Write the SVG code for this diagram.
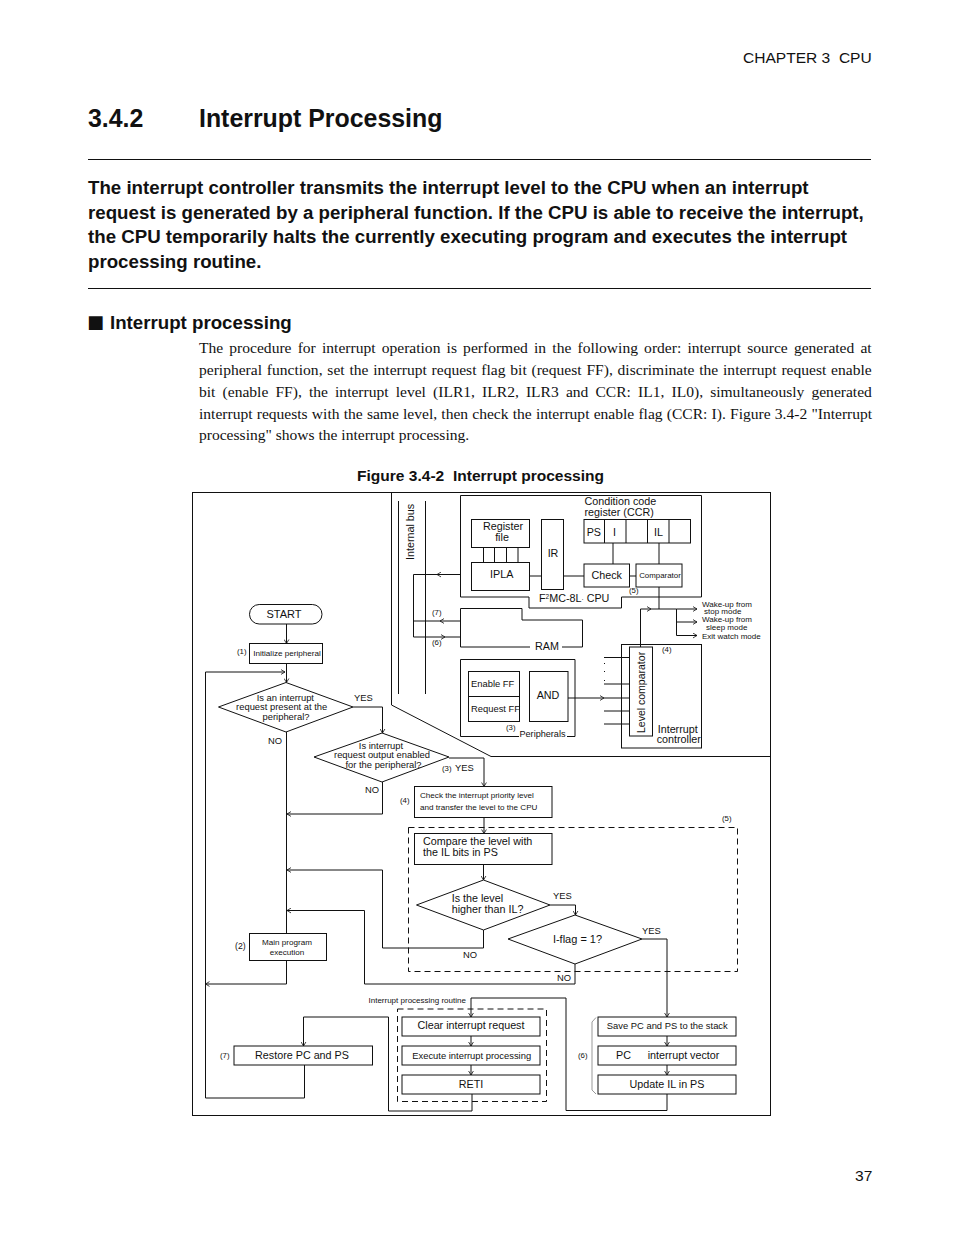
<svg xmlns="http://www.w3.org/2000/svg" width="954" height="1235" viewBox="0 0 954 1235">
<style>
text{font-family:"Liberation Sans",Arial,sans-serif;fill:#111}
.b{font-weight:bold}
.body{font-family:"Liberation Serif","Times New Roman",serif;font-size:15.55px}
.s{fill:none;stroke:#111;stroke-width:1}
.n{fill:#fff;stroke:#111;stroke-width:1}
.d{fill:none;stroke:#111;stroke-width:1;stroke-dasharray:6 4}
.a{marker-end:url(#arr)}
.m{text-anchor:middle}
.t7{font-size:7.8px}.t75{font-size:8.1px}.t8{font-size:8px}.t85{font-size:9.4px}.t10{font-size:10.75px}
</style>
<defs>
<marker id="arr" viewBox="0 0 6 6" refX="5" refY="3" markerWidth="6" markerHeight="6" orient="auto" markerUnits="userSpaceOnUse"><path d="M1,0.6 L5,3 L1,5.4" fill="none" stroke="#111" stroke-width="0.8"/></marker>
</defs>
<rect width="954" height="1235" fill="#fff"/>
<g id="page-text">
<text x="743" y="63" font-size="15.55" xml:space="preserve">CHAPTER 3  CPU</text>
<text x="88" y="127" font-size="24.9" class="b">3.4.2</text>
<text x="199" y="127" font-size="24.9" class="b">Interrupt Processing</text>
<path class="s" d="M88,159.5H871M88,288.5H871"/>
<g class="b" font-size="18.7">
<text x="88" y="194">The interrupt controller transmits the interrupt level to the CPU when an interrupt</text>
<text x="88" y="219">request is generated by a peripheral function. If the CPU is able to receive the interrupt,</text>
<text x="88" y="243">the CPU temporarily halts the currently executing program and executes the interrupt</text>
<text x="88" y="268">processing routine.</text>
</g>
<text x="87" y="328" font-size="18" style="font-family:'DejaVu Sans',sans-serif">■</text>
<text x="110" y="329" font-size="18.7" class="b">Interrupt processing</text>
<text class="body" x="199" y="353" word-spacing="2.29">The procedure for interrupt operation is performed in the following order: interrupt source generated at</text>
<text class="body" x="199" y="374.5" word-spacing="0.93">peripheral function, set the interrupt request flag bit (request FF), discriminate the interrupt request enable</text>
<text class="body" x="199" y="396.5" word-spacing="3.25">bit (enable FF), the interrupt level (ILR1, ILR2, ILR3 and CCR: IL1, IL0), simultaneously generated</text>
<text class="body" x="199" y="418.5" word-spacing="0.31">interrupt requests with the same level, then check the interrupt enable flag (CCR: I). Figure 3.4-2 "Interrupt</text>
<text class="body" x="199" y="440">processing" shows the interrupt processing.</text>
<text x="357" y="481" font-size="15.55" class="b" xml:space="preserve">Figure 3.4-2  Interrupt processing</text>
<text x="855" y="1181" font-size="15.55">37</text>
</g>
<g id="frame">
<rect class="s" x="192.5" y="492.5" width="578" height="623"/>
<path class="s" d="M391.5,492.5V705L491,756.5H770"/>
</g>
<g id="connectors">
<path class="s" d="M398.5,501V694M425.5,501V694"/>
<path class="s" d="M483.5,547V562.5M494.5,547V562.5M506.5,547V562.5M518,547V562.5M529.5,576H541M563.5,576H584M629.5,576H636M613,543V564M659,543V564"/>
<path class="s a" d="M460,574.5H437"/><path class="s" d="M437,574.5H413.5V637"/>
<path class="s a" d="M460,621H440"/><path class="s" d="M440,621H413.5"/>
<path class="s a" d="M413.5,637H445"/><path class="s" d="M445,637H460"/>
<path class="s a" d="M568,698H604"/><path class="s" d="M604,698H629.5"/>
<path class="s" d="M604,657.5H629.5M604,684H629.5M604,711H629.5M604,724H629.5"/>
<path class="s a" d="M640.5,647V609H651"/><path class="s" d="M651,609H676.5M659,587V609"/>
<path class="s a" d="M676.5,609H697"/>
<path class="s a" d="M676.5,609V622H697"/>
<path class="s a" d="M676.5,622V635.5H697"/>
<path class="s a" d="M286.5,624V643.5"/>
<path class="s a" d="M286.5,663V682.5"/>
<path class="s a" d="M205.5,1098V672H285"/>
<path class="s a" d="M353,707H382.5V733"/>
<path class="s a" d="M449,758H484V786.5"/>
<path class="s a" d="M382.5,782V814H287"/>
<path class="s" d="M286.5,732V933.5"/>
<path class="s a" d="M484,817.5V833.5"/>
<path class="s a" d="M483.5,864V880"/>
<path class="s a" d="M550,905H575.5V915"/>
<path class="s a" d="M483.5,930V948H382.5V870H287"/>
<path class="s a" d="M575,964V984H364.5V910.5H287"/>
<path class="s a" d="M642,939H667V1017"/>
<path class="s a" d="M286.5,960.5V984H205.5"/>
<path class="s a" d="M667,1094V1110.5H566V998H471V1017"/>
<path class="s a" d="M471,1036V1046"/>
<path class="s a" d="M471,1065V1075"/>
<path class="s a" d="M472,1094V1111H388.5V1017H303.5V1046"/>
<path class="s" d="M304.5,1065V1098H205.5"/>
<path class="s a" d="M667,1036V1046"/>
<path class="s a" d="M667,1065V1075"/>
<path d="M596,1017.5L592,1022V1090L596,1094" fill="none" stroke="#999" stroke-width="1"/>
<g fill="#111"><rect x="604" y="663" width="1" height="1"/><rect x="604" y="671" width="1" height="1"/><rect x="604" y="680" width="1" height="1"/></g>
</g>
<g id="cpu">
<path class="s" d="M460.5,495.5H701.5V597H621.5V608H529V597H460.5Z"/>
<rect class="n" x="471.5" y="519.5" width="58" height="28"/><text class="t10 m" x="503" y="530">Register</text><text class="t10 m" x="502" y="541">file</text>
<rect class="n" x="471.5" y="562.5" width="58" height="28"/><text class="t10 m" x="501.7" y="578">IPLA</text>
<rect class="n" x="541.5" y="519.5" width="22" height="70"/><text class="t10 m" x="553" y="557">IR</text>
<rect class="n" x="584" y="519.5" width="106.5" height="23.5"/><path class="s" d="M604.5,519.5V543M626,519.5V543M647.5,519.5V543M669,519.5V543"/>
<text class="t10" x="586.7" y="536">PS</text><text class="t10" x="613" y="536">I</text><text class="t10" x="654" y="536">IL</text>
<rect class="n" x="584" y="564" width="45.5" height="23"/><text class="t10 m" x="606.7" y="579">Check</text>
<rect class="n" x="636" y="564" width="46" height="23"/><text class="m" font-size="7.9" x="660" y="578">Comparator</text>
<text class="t10" x="584.5" y="505">Condition code</text><text class="t10" x="584.5" y="516">register (CCR)</text>
<text class="t10" x="539" y="602">F<tspan font-size="6.5" dy="-3">2</tspan><tspan dy="3">MC-8L</tspan><tspan font-size="6.5">·</tspan> CPU</text>
<text class="t7" x="629" y="593">(5)</text>
</g>
<g id="ram">
<path class="s" d="M530,647H460.5V608.5H522V620H582.5V647H562"/>
<text class="t10" x="535" y="650">RAM</text>
<text class="t7" x="432" y="615">(7)</text><text class="t7" x="432" y="645">(6)</text>
</g>
<g id="peripherals">
<path class="s" d="M519,736.5H460.5V659.5H575V736.5H567"/>
<rect class="n" x="468.5" y="671.5" width="51" height="25"/><text class="t85" x="471" y="687">Enable FF</text>
<rect class="n" x="468.5" y="696.5" width="51" height="25"/><text class="t85" x="471" y="712">Request FF</text>
<rect class="n" x="529.5" y="671.5" width="38.5" height="50"/><text class="t10" x="536.7" y="699">AND</text>
<text class="t7" x="506" y="730">(3)</text><text font-size="9.1" x="519.5" y="737">Peripherals</text>
</g>
<g id="interrupt-controller">
<rect class="s" x="621.5" y="644.5" width="80" height="103.5"/>
<rect class="n" x="629.5" y="647" width="23" height="89"/>
<text transform="translate(644.5,733) rotate(-90)" font-size="10.5">Level comparator</text>
<text class="t10" x="657.7" y="733">Interrupt</text><text class="t10" x="656.7" y="743">controller</text>
<text class="t7" x="662" y="652">(4)</text>
</g>
<g id="wake-labels">
<text class="t8" x="702" y="607">Wake-up from</text><text class="t8" x="704" y="614">stop mode</text>
<text class="t8" x="702" y="622">Wake-up from</text><text class="t8" x="706" y="630">sleep mode</text>
<text class="t8" x="702" y="638.5">Exit watch mode</text>
<text class="t10" transform="translate(414,560) rotate(-90)">Internal bus</text>
</g>
<g id="start"><rect class="n" x="249.5" y="604.5" width="72.5" height="19.5" rx="9.7"/><text class="m" font-size="11" x="284" y="618">START</text></g>
<g id="init"><rect class="n" x="249.5" y="643.5" width="73" height="20"/><text class="m t75" x="287" y="656">Initialize peripheral</text><text class="t7" x="237" y="654">(1)</text></g>
<g id="d1"><path class="n" d="M218.5,707L286,682.5L353,707L286,732Z"/><text class="m t85" x="285.3" y="701">Is an interrupt</text><text class="m t85" x="281.7" y="710">request present at the</text><text class="m t85" x="286" y="720">peripheral?</text><text class="t85" x="354" y="701">YES</text><text class="t85" x="268" y="744">NO</text></g>
<g id="d2"><path class="n" d="M314,757L382,733L449,757L382,782Z"/><text class="m t85" x="381" y="749">Is interrupt</text><text class="m t85" x="382" y="758">request output enabled</text><text class="m t85" x="383.5" y="768">for the peripheral?</text><text class="t85" x="365" y="793">NO</text><text class="t7" x="442" y="771">(3)</text><text class="t85" x="455" y="771">YES</text></g>
<g id="check"><rect class="n" x="414.5" y="786.5" width="137.5" height="31"/><text class="t75" x="420" y="798">Check the interrupt priority level</text><text class="t75" x="420" y="810">and transfer the level to the CPU</text><text class="t7" x="400" y="803">(4)</text></g>
<g id="group5"><rect class="d" x="408.5" y="827.5" width="329" height="144"/><text class="t7" x="722" y="821">(5)</text></g>
<g id="compare"><rect class="n" x="414.5" y="833.5" width="137.5" height="31"/><text class="t10" x="423" y="845">Compare the level with</text><text class="t10" x="423" y="856">the IL bits in PS</text></g>
<g id="d3"><path class="n" d="M416.5,905L483.5,880L550,905L483.5,930Z"/><text class="t10" x="451.7" y="902">Is the level</text><text class="t10" x="451.7" y="913">higher than IL?</text><text class="t85" x="553" y="899">YES</text><text class="t85" x="463" y="958">NO</text></g>
<g id="d4"><path class="n" d="M508,939L575,915L642,939L575,964Z"/><text class="m" font-size="11" x="577.5" y="942.5">I-flag = 1?</text><text class="t85" x="642" y="934">YES</text><text class="t85" x="557" y="981">NO</text></g>
<g id="main"><rect class="n" x="249.5" y="933.5" width="77" height="27"/><text class="m t75" x="287" y="945">Main program</text><text class="m t75" x="287" y="955">execution</text><text font-size="8.7" x="235" y="949">(2)</text></g>
<g id="routine"><rect class="d" x="397.5" y="1009" width="149" height="92.5"/><text font-size="8" x="368.5" y="1003">Interrupt processing routine</text></g>
<g id="clear"><rect class="n" x="402" y="1017" width="138" height="19"/><text class="m t10" x="471" y="1029">Clear interrupt request</text></g>
<g id="execute"><rect class="n" x="402" y="1046" width="138" height="19"/><text class="m t85" x="471.7" y="1059">Execute interrupt processing</text></g>
<g id="reti"><rect class="n" x="402" y="1075" width="138" height="19"/><text class="m t10" x="471" y="1088">RETI</text></g>
<g id="restore"><rect class="n" x="234" y="1046" width="138.5" height="19"/><text class="m t10" x="302" y="1059">Restore PC and PS</text><text class="t7" x="220" y="1058">(7)</text></g>
<g id="save"><rect class="n" x="598" y="1017" width="138" height="19"/><text class="m t85" x="667.3" y="1029">Save PC and PS to the stack</text></g>
<g id="pc"><rect class="n" x="598" y="1046" width="138" height="19"/><text class="t10" x="616" y="1059">PC<tspan x="647.7">interrupt vector</tspan></text><text class="t7" x="578" y="1058">(6)</text></g>
<g id="update"><rect class="n" x="598" y="1075" width="138" height="19"/><text class="m t10" x="667" y="1088">Update IL in PS</text></g>
</svg>
